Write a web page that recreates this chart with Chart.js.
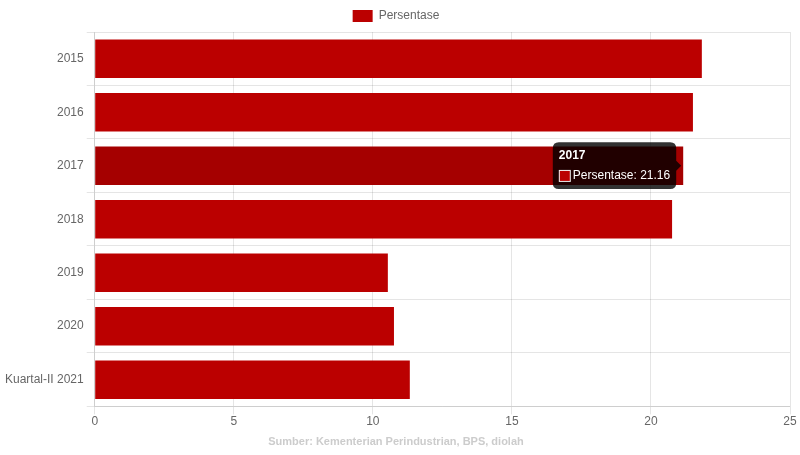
<!DOCTYPE html>
<html>
<head>
<meta charset="utf-8">
<script src="https://cdn.jsdelivr.net/npm/chart.js@4/dist/chart.umd.min.js"></script>
<style>
  html, body { margin: 0; padding: 0; background: #fff; }
  #wrap { width: 800px; height: 455px; }
</style>
</head>
<body>
<div id="wrap"><canvas id="chart"></canvas></div>
<script>
const categories = ['2015', '2016', '2017', '2018', '2019', '2020', 'Kuartal-II 2021'];
const persentase = [21.83, 21.51, 21.16, 20.76, 10.54, 10.76, 11.33];
const xTicks = [0, 5, 10, 15, 20, 25];

Chart.defaults.font.family = '"Liberation Sans", Arial, sans-serif';
Chart.defaults.color = '#666';

const chart = new Chart(document.getElementById('chart'), {
    type: 'bar',
    data: {
        labels: categories,
        datasets: [{
            label: 'Persentase',
            data: persentase,
            backgroundColor: '#bb0000',
            hoverBackgroundColor: '#a50000',
            borderWidth: 0
        }]
    },
    options: {
        indexAxis: 'y',
        responsive: true,
        maintainAspectRatio: false,
        animation: false,
        layout: { padding: { left: 2, right: 10 } },
        plugins: {
            legend: {
                labels: { boxWidth: 20, boxHeight: 12, color: '#666', font: { size: 12 } }
            },
            title: {
                display: true,
                position: 'bottom',
                text: 'Sumber: Kementerian Perindustrian, BPS, diolah',
                color: '#ccc',
                font: { size: 11, weight: 'bold' },
                padding: { top: 7, bottom: 6 }
            },
            tooltip: {
                backgroundColor: 'rgba(0,0,0,0.8)',
                titleFont: { size: 12, weight: 'bold' },
                bodyFont: { size: 12 },
                padding: 6
            }
        },
        scales: {
            x: {
                min: 0,
                max: 25,
                afterBuildTicks: axis => { axis.ticks = xTicks.map(v => ({ value: v })); },
                grid: { color: 'rgba(0,0,0,0.1)' },
                ticks: { color: '#666', font: { size: 12 }, padding: 0 }
            },
            y: {
                grid: { color: 'rgba(0,0,0,0.1)' },
                ticks: { color: '#666', font: { size: 12 } }
            }
        }
    }
});

const active = [{ datasetIndex: 0, index: 2 }];
const meta = chart.getDatasetMeta(0).data[2];
chart.setActiveElements(active);
chart.tooltip.setActiveElements(active, { x: meta.x, y: meta.y });
chart.update();
</script>
</body>
</html>
